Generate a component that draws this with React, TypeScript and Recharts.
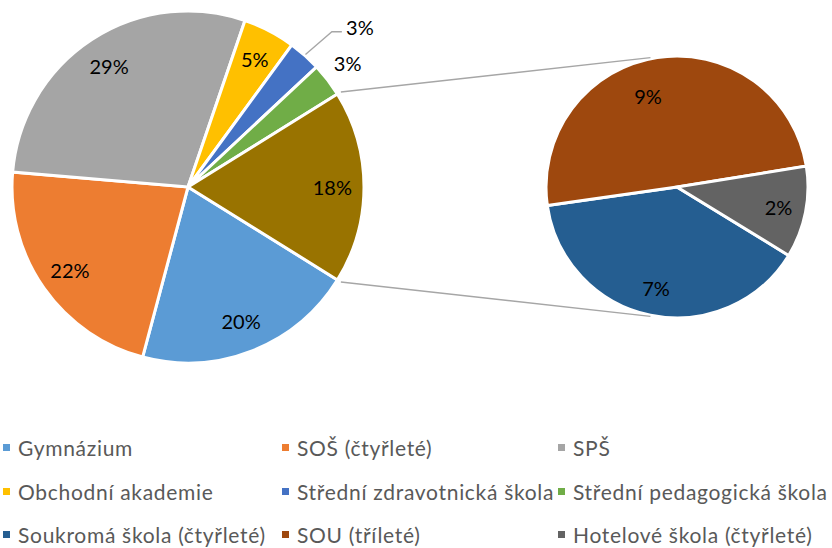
import { PieChart, Pie, Cell } from 'recharts'

// Main pie categories (percent of students)
const mainNames = [
  'Gymnázium',
  'SOŠ (čtyřleté)',
  'SPŠ',
  'Obchodní akademie',
  'Střední zdravotnická škola',
  'Střední pedagogická škola',
]
const mainValues = [20.3, 22.2, 28.9, 4.8, 3.0, 3.1]
const mainColors = ['#5B9BD5', '#ED7D31', '#A5A5A5', '#FFC000', '#4472C4', '#70AD47']

// Split-off slice, shown in the secondary pie
const subNames = ['Soukromá škola (čtyřleté)', 'SOU (tříleté)', 'Hotelové škola (čtyřleté)']
const subValues = [6.9, 8.8, 2.0]
const subColors = ['#255E91', '#9E480E', '#636363']
const otherName = 'Ostatní'
const otherColor = '#997300'

const RADIAN = Math.PI / 180
const FONT = 'Lato, "Noto Sans", sans-serif'

const MAIN = { cx: 188, cy: 187, r: 176 }
const SUB = { cx: 677, cy: 187, r: 131 }

const otherValue = subValues.reduce((a, b) => a + b, 0)
const mainTotal = mainValues.reduce((a, b) => a + b, 0) + otherValue
const otherHalfAngle = (otherValue / mainTotal) * 180

const mainData = [
  ...mainNames.map((name, i) => ({ name, value: mainValues[i], color: mainColors[i] })),
  { name: otherName, value: otherValue, color: otherColor },
]
const subData = subNames.map((name, i) => ({ name, value: subValues[i], color: subColors[i] }))

const legendItems = [
  ...mainNames.map((name, i) => ({ name, color: mainColors[i] })),
  ...subNames.map((name, i) => ({ name, color: subColors[i] })),
]

const polar = (cx: number, cy: number, r: number, deg: number) => ({
  x: cx + r * Math.cos(-deg * RADIAN),
  y: cy + r * Math.sin(-deg * RADIAN),
})

// small slices get their labels moved outside, like the Excel original
const outsideLabels: Record<number, { angle: number; r: number; leader?: boolean }> = {
  4: { angle: 43, r: 235, leader: true },
  5: { angle: 37.8, r: 202 },
}

function MainLabel(props: any) {
  const { cx, cy, midAngle, outerRadius, index, value } = props
  const text = `${Math.round((value / mainTotal) * 100)}%`
  const out = outsideLabels[index]
  if (out) {
    const p = polar(cx, cy, out.r, out.angle)
    const edge = polar(cx, cy, outerRadius + 1, midAngle)
    return (
      <g>
        {out.leader && (
          <polyline
            points={`${edge.x},${edge.y} ${p.x - 28},${p.y + 5} ${p.x - 18},${p.y + 5}`}
            fill="none"
            stroke="#A6A6A6"
            strokeWidth={1.3}
          />
        )}
        <text x={p.x} y={p.y} textAnchor="middle" dominantBaseline="central" fill="#000" fontSize={20} fontFamily={FONT}>
          {text}
        </text>
      </g>
    )
  }
  const p = polar(cx, cy, outerRadius * 0.82, midAngle)
  return (
    <text x={p.x} y={p.y} textAnchor="middle" dominantBaseline="central" fill="#000" fontSize={20} fontFamily={FONT}>
      {text}
    </text>
  )
}

function SubLabel(props: any) {
  const { cx, cy, midAngle, outerRadius, index, value } = props
  const text = `${Math.round((value / mainTotal) * 100)}%`
  // Excel nudges the big top label towards the left
  const angle = index === 1 ? midAngle + 9 : midAngle
  const r = index === 1 ? outerRadius * 0.73 : outerRadius * 0.79
  const p = polar(cx, cy, r, angle)
  return (
    <text x={p.x} y={p.y} textAnchor="middle" dominantBaseline="central" fill="#000" fontSize={20} fontFamily={FONT}>
      {text}
    </text>
  )
}

export default function App() {
  const topA = polar(MAIN.cx, MAIN.cy, MAIN.r + 4, otherHalfAngle)
  const botA = polar(MAIN.cx, MAIN.cy, MAIN.r + 4, -otherHalfAngle)
  const topB = polar(SUB.cx, SUB.cy, SUB.r + 1, 101.6)
  const botB = polar(SUB.cx, SUB.cy, SUB.r + 1, -101.6)

  const colX = [0, 279, 555]
  const rowY = [447, 491, 534]

  return (
    <div style={{ position: 'absolute', left: 0, top: 0, width: 832, height: 548, background: '#fff', fontFamily: FONT }}>
      <PieChart width={832} height={400} margin={{ top: 0, right: 0, bottom: 0, left: 0 }}>
        <Pie
          data={mainData}
          dataKey="value"
          nameKey="name"
          cx={MAIN.cx}
          cy={MAIN.cy}
          outerRadius={MAIN.r}
          startAngle={-otherHalfAngle}
          endAngle={-otherHalfAngle - 360}
          stroke="#fff"
          strokeWidth={3}
          label={MainLabel}
          labelLine={false}
          isAnimationActive={false}
        >
          {mainData.map((d) => (
            <Cell key={d.name} fill={d.color} />
          ))}
        </Pie>
        <Pie
          data={subData}
          dataKey="value"
          nameKey="name"
          cx={SUB.cx}
          cy={SUB.cy}
          outerRadius={SUB.r}
          startAngle={-31.5}
          endAngle={-391.5}
          stroke="#fff"
          strokeWidth={3}
          label={SubLabel}
          labelLine={false}
          isAnimationActive={false}
        >
          {subData.map((d) => (
            <Cell key={d.name} fill={d.color} />
          ))}
        </Pie>
      </PieChart>

      {/* series lines joining the split slice to the secondary pie */}
      <svg width={832} height={400} style={{ position: 'absolute', left: 0, top: 0, pointerEvents: 'none' }}>
        <line x1={topA.x} y1={topA.y} x2={topB.x} y2={topB.y} stroke="#A6A6A6" strokeWidth={1.3} />
        <line x1={botA.x} y1={botA.y} x2={botB.x} y2={botB.y} stroke="#A6A6A6" strokeWidth={1.3} />
      </svg>

      {legendItems.map((item, i) => (
        <div
          key={item.name}
          style={{
            position: 'absolute',
            left: colX[i % 3],
            top: rowY[Math.floor(i / 3)] - 14,
            height: 28,
            display: 'flex',
            alignItems: 'center',
            whiteSpace: 'nowrap',
            fontSize: 21,
            letterSpacing: 0.7,
            color: '#595959',
          }}
        >
          <span style={{ display: 'inline-block', width: 7, height: 7, background: item.color, marginLeft: 3, marginRight: 8 }} />
          {item.name}
        </div>
      ))}
    </div>
  )
}
